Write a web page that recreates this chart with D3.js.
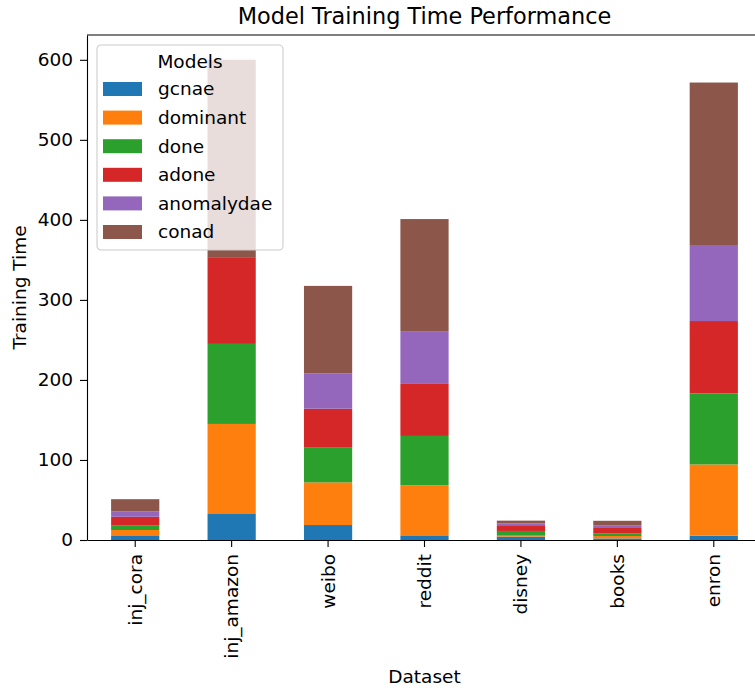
<!DOCTYPE html>
<html>
<head>
<meta charset="utf-8">
<script src="https://cdn.jsdelivr.net/npm/d3@7"></script>
<style>
  body { margin: 0; background: #fff; }
  svg { display: block; font-family: "DejaVu Sans", sans-serif; }
</style>
</head>
<body>
<div id="chart"></div>
<script>
var datasets = ["inj_cora", "inj_amazon", "weibo", "reddit", "disney", "books", "enron"];
var models = ["gcnae", "dominant", "done", "adone", "anomalydae", "conad"];
var colors = ["#1f77b4", "#ff7f0e", "#2ca02c", "#d62728", "#9467bd", "#8c564b"];

// training time per model, one value per dataset (same order as datasets)
var gcnae      = [5,   32.5, 18.7, 5.8,  4.2, 2,   5.4];
var dominant   = [7.5, 112.5, 53.3, 62.5, 1.2, 3,  89];
var done       = [6,   100,  44,   61.7, 5.9, 3,   88.7];
var adone      = [10.5, 107.5, 48, 65,   6.2, 7,   90.5];
var anomalydae = [6.5, 0,    44.3, 66,   3.3, 3.5, 95];
var conad      = [15.5, 247.5, 109.2, 140, 3.4, 5.5, 203];

var yTicks = [0, 100, 200, 300, 400, 500, 600];

function init() {
  var w = 755, h = 688;
  var left = 87, top = 35, bottom = 540, right = 762;

  var seriesVals = [gcnae, dominant, done, adone, anomalydae, conad];
  var rows = datasets.map(function(d, i) {
    var r = { dataset: d };
    models.forEach(function(m, j) { r[m] = seriesVals[j][i]; });
    return r;
  });

  var stack = d3.stack().keys(models);
  var layers = stack(rows);

  var x = d3.scaleBand()
    .domain(datasets)
    .range([left, right])
    .paddingInner(0.5)
    .paddingOuter(0.25);

  var y = d3.scaleLinear().domain([0, 631]).range([bottom, top]);

  var color = d3.scaleOrdinal().domain(models).range(colors);

  var svg = d3.select("#chart").append("svg")
    .attr("width", w)
    .attr("height", h);

  // bars
  svg.selectAll("g.layer")
    .data(layers)
    .enter()
    .append("g")
    .attr("class", "layer")
    .attr("fill", function(d) { return color(d.key); })
    .selectAll("rect")
    .data(function(d) { return d; })
    .enter()
    .append("rect")
    .attr("x", function(d) { return x(d.data.dataset); })
    .attr("width", x.bandwidth())
    .attr("y", function(d) { return y(d[1]); })
    .attr("height", function(d) { return y(d[0]) - y(d[1]); });

  // axes
  var yAxis = svg.append("g")
    .attr("transform", "translate(" + left + ",0)")
    .call(d3.axisLeft(y).tickValues(yTicks).tickSize(7).tickPadding(7).tickSizeOuter(0));
  yAxis.selectAll("text").attr("font-size", "18.5px").attr("fill", "#000")
    .attr("font-family", "DejaVu Sans");
  yAxis.selectAll("line, path").attr("stroke", "#000").attr("stroke-width", 1.1);

  var xAxis = svg.append("g")
    .attr("transform", "translate(0," + bottom + ")")
    .call(d3.axisBottom(x).tickSize(7).tickSizeOuter(0));
  xAxis.selectAll("line, path").attr("stroke", "#000").attr("stroke-width", 1.1);
  xAxis.selectAll("text")
    .attr("font-size", "18.5px")
    .attr("fill", "#000")
    .attr("font-family", "DejaVu Sans")
    .attr("text-anchor", "end")
    .attr("transform", "rotate(-90)")
    .attr("x", -14)
    .attr("y", 0)
    .attr("dy", "0.35em");

  // top spine
  svg.append("line")
    .attr("x1", left).attr("x2", right)
    .attr("y1", top).attr("y2", top)
    .attr("stroke", "#000").attr("stroke-width", 1.1);
  svg.append("line")
    .attr("x1", right).attr("x2", right)
    .attr("y1", top).attr("y2", bottom)
    .attr("stroke", "#000").attr("stroke-width", 1.1);

  // title and labels
  svg.append("text")
    .attr("x", (left + right) / 2)
    .attr("y", 24)
    .attr("text-anchor", "middle")
    .attr("font-size", "22.4px")
    .text("Model Training Time Performance");

  svg.append("text")
    .attr("x", (left + right) / 2)
    .attr("y", 683)
    .attr("text-anchor", "middle")
    .attr("font-size", "18.5px")
    .text("Dataset");

  svg.append("text")
    .attr("transform", "translate(26," + ((top + bottom) / 2) + ") rotate(-90)")
    .attr("text-anchor", "middle")
    .attr("font-size", "18.5px")
    .text("Training Time");

  // legend
  var legend = svg.append("g").attr("transform", "translate(97,45)");
  legend.append("rect")
    .attr("width", 186)
    .attr("height", 205)
    .attr("rx", 4)
    .attr("fill", "#fff")
    .attr("fill-opacity", 0.8)
    .attr("stroke", "#cccccc")
    .attr("stroke-width", 1.1);
  legend.append("text")
    .attr("x", 93)
    .attr("y", 17)
    .attr("dy", "0.35em")
    .attr("text-anchor", "middle")
    .attr("font-size", "18.5px")
    .text("Models");

  var items = legend.selectAll("g.item")
    .data(models)
    .enter()
    .append("g")
    .attr("class", "item")
    .attr("transform", function(d, i) { return "translate(0," + (44 + i * 28.6) + ")"; });
  items.append("rect")
    .attr("x", 6)
    .attr("y", -7)
    .attr("width", 39)
    .attr("height", 14)
    .attr("fill", function(d) { return color(d); });
  items.append("text")
    .attr("x", 61)
    .attr("y", 0)
    .attr("dy", "0.35em")
    .attr("font-size", "18.5px")
    .text(function(d) { return d; });
}

window.onload = init;
</script>
</body>
</html>
